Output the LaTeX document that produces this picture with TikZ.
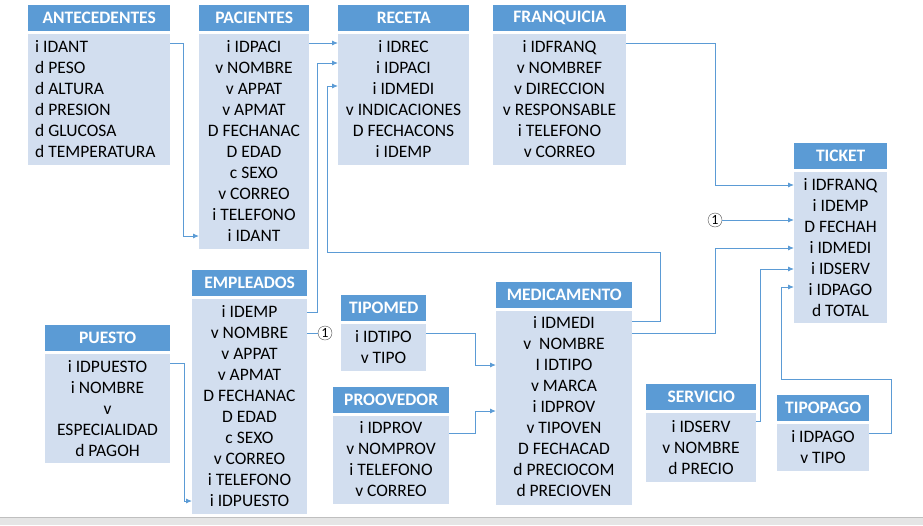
\documentclass[tikz,border=0pt]{standalone}
\usepackage{fontspec}
\setmainfont{Carlito}
\usetikzlibrary{positioning, arrows.meta}
\definecolor{azul}{RGB}{91,155,213}
\definecolor{celeste}{RGB}{210,222,239}
\tikzstyle{titulo} = [fill=azul, text=white, font=\bfseries\fontsize{17.5}{19}\selectfont, minimum height=26pt, inner sep=0pt]
\tikzstyle{cuerpo} = [fill=celeste, anchor=north west, inner sep=0pt]
\tikzstyle{fila} = [font=\fontsize{17.5}{19}\selectfont, inner sep=0pt, text height=11pt, text depth=0pt]
\tikzstyle{linea} = [draw=azul, line width=0.9pt]
\tikzstyle{flecha} = [linea, -{Latex[length=6pt,width=5pt]}]
\tikzstyle{conector} = [circle, draw=black!70, inner sep=0pt, minimum size=14pt, font=\fontsize{14}{14}\selectfont]

\begin{document}
\begin{tikzpicture}[x=1pt, y=-1pt]
    \useasboundingbox (0,0) rectangle (923,525);
    \fill[black!10] (0,517) rectangle (923,525);
    \draw[black!25] (0,517) -- (923,517);

    % tablas
    \node[cuerpo, minimum width=142pt, minimum height=131pt] (ant) at (28,34) {};
    \node[titulo, minimum width=142pt, above=3pt of ant] (ant-t) {ANTECEDENTES};
    \foreach \t [count=\i] in {i IDANT,d PESO,d ALTURA,d PRESION,d GLUCOSA,d TEMPERATURA}
        \node[fila, anchor=west] (ant-\i) at (35,{26+21*\i}) {\t};

    \node[cuerpo, minimum width=110pt, minimum height=215pt] (pac) at (199,34) {};
    \node[titulo, minimum width=110pt, above=3pt of pac] (pac-t) {PACIENTES};
    \foreach \t [count=\i] in {i IDPACI,v NOMBRE,v APPAT,v APMAT,D FECHANAC,D EDAD,c SEXO,v CORREO,i TELEFONO,i IDANT}
        \node[fila] (pac-\i) at (254,{26+21*\i}) {\t};

    \node[cuerpo, minimum width=131pt, minimum height=131pt] (rec) at (338,34) {};
    \node[titulo, minimum width=131pt, above=3pt of rec] (rec-t) {RECETA};
    \foreach \t [count=\i] in {i IDREC,i IDPACI,i IDMEDI,v INDICACIONES,D FECHACONS,i IDEMP}
        \node[fila] (rec-\i) at (403.5,{26+21*\i}) {\t};

    \node[cuerpo, minimum width=133pt, minimum height=131pt] (fra) at (493,34) {};
    \node[titulo, minimum width=133pt, above=3pt of fra] (fra-t) {FRANQUICIA};
    \foreach \t [count=\i] in {i IDFRANQ,v NOMBREF,v DIRECCION,v RESPONSABLE,i TELEFONO,v CORREO}
        \node[fila] (fra-\i) at (559.5,{26+21*\i}) {\t};

    \node[cuerpo, minimum width=93pt, minimum height=151pt] (tic) at (794,172) {};
    \node[titulo, minimum width=93pt, above=3pt of tic] (tic-t) {TICKET};
    \foreach \t [count=\i] in {i IDFRANQ,i IDEMP,D FECHAH,i IDMEDI,i IDSERV,i IDPAGO,d TOTAL}
        \node[fila] (tic-\i) at (840.5,{164+21*\i}) {\t};

    \node[cuerpo, minimum width=115pt, minimum height=215pt] (emp) at (192,299) {};
    \node[titulo, minimum width=115pt, above=3pt of emp] (emp-t) {EMPLEADOS};
    \foreach \t [count=\i] in {i IDEMP,v NOMBRE,v APPAT,v APMAT,D FECHANAC,D EDAD,c SEXO,v CORREO,i TELEFONO,i IDPUESTO}
        \node[fila] (emp-\i) at (249.5,{291+21*\i}) {\t};

    \node[cuerpo, minimum width=125pt, minimum height=109pt] (pue) at (45,354) {};
    \node[titulo, minimum width=125pt, above=3pt of pue] (pue-t) {PUESTO};
    \foreach \t [count=\i] in {i IDPUESTO,i NOMBRE,v,ESPECIALIDAD,d PAGOH}
        \node[fila] (pue-\i) at (107.5,{346+21*\i}) {\t};

    \node[cuerpo, minimum width=85pt, minimum height=47pt] (tip) at (341,324) {};
    \node[titulo, minimum width=85pt, above=3pt of tip] (tip-t) {TIPOMED};
    \foreach \t [count=\i] in {i IDTIPO,v TIPO}
        \node[fila] (tip-\i) at (383.5,{316+21*\i}) {\t};

    \node[cuerpo, minimum width=116pt, minimum height=88pt] (pro) at (333,416) {};
    \node[titulo, minimum width=116pt, above=3pt of pro] (pro-t) {PROOVEDOR};
    \foreach \t [count=\i] in {i IDPROV,v NOMPROV,i TELEFONO,v CORREO}
        \node[fila] (pro-\i) at (391,{407+21*\i}) {\t};

    \node[cuerpo, minimum width=136pt, minimum height=194pt] (med) at (496,311) {};
    \node[titulo, minimum width=136pt, above=3pt of med] (med-t) {MEDICAMENTO};
    \foreach \t [count=\i] in {i IDMEDI,v\ \ NOMBRE,I IDTIPO,v MARCA,i IDPROV,v TIPOVEN,D FECHACAD,d PRECIOCOM,d PRECIOVEN}
        \node[fila] (med-\i) at (564,{302+21*\i}) {\t};

    \node[cuerpo, minimum width=110pt, minimum height=69pt] (ser) at (646,413) {};
    \node[titulo, minimum width=110pt, above=3pt of ser] (ser-t) {SERVICIO};
    \foreach \t [count=\i] in {i IDSERV,v NOMBRE,d PRECIO}
        \node[fila] (ser-\i) at (701,{406+21*\i}) {\t};

    \node[cuerpo, minimum width=92pt, minimum height=47pt] (tpa) at (777,424) {};
    \node[titulo, minimum width=92pt, above=3pt of tpa] (tpa-t) {TIPOPAGO};
    \foreach \t [count=\i] in {i IDPAGO,v TIPO}
        \node[fila] (tpa-\i) at (823,{416+21*\i}) {\t};

    % conectores de pagina
    \node[conector] (uno-a) at (325,333) {1};
    \node[conector] (uno-b) at (715,220) {1};

    % relaciones
    \draw[flecha] (ant-1 -| ant.east) ++(0,-4) -- ++(13,0) |- (pac-10 -| pac.west);
    \draw[flecha] (pac-1 -| pac.east) ++(0,-4) -- ([yshift=4pt]rec-1 -| rec.west);
    \draw[flecha] (emp-1 -| emp.east) -- ++(10,0) |- ([yshift=5pt]rec-2 -| rec.west);
    \draw[flecha] (med-1 -| med.east) ++(0,-2) -- ++(28,0) |- (327,252) |- ([yshift=3pt]rec-3 -| rec.west);
    \draw[flecha] (med-1 -| med.east) ++(0,10) -- ++(83,0) |- (tic-4 -| tic.west);
    \draw[flecha] (fra-1 -| fra.east) ++(0,-4) -- ++(89,0) |- (tic-1 -| tic.west);
    \draw[linea] (emp-2 -| emp.east) -- (uno-a);
    \draw[flecha] (uno-b) -- (uno-b -| tic.west);
    \draw[flecha] (ser-1 -| ser.east) ++(0,-6) -- ++(4,0) |- (tic-5 -| tic.west);
    \draw[flecha] (tpa-1 -| tpa.east) ++(0,-4) -| (891,379) -- (781,379) |- ([yshift=3pt]tic-6 -| tic.west);
    \draw[flecha] (tip-1 -| tip.east) ++(0,-4) -- ++(49,0) |- (med-3 -| med.west);
    \draw[flecha] (pro-1 -| pro.east) ++(0,5) -- ++(26,0) |- ([yshift=-4pt]med-5 -| med.west);
    \draw[flecha] (pue-1 -| pue.east) ++(0,-4) -- ++(14,0) |- (emp-10 -| emp.west);
\end{tikzpicture}
\end{document}
